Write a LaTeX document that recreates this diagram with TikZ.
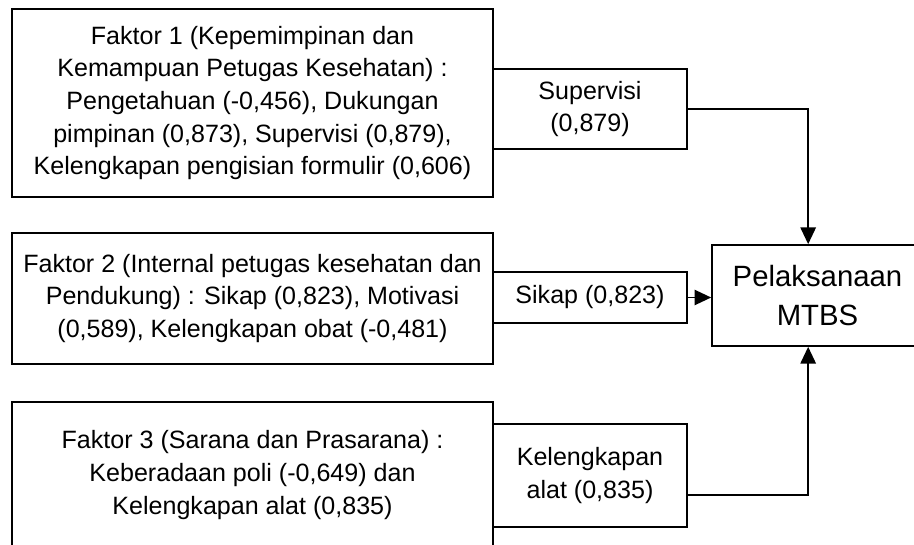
\documentclass[tikz,border=0pt]{standalone}
\usepackage{fontspec}
\setmainfont{Liberation Sans}
\usepackage{tikz}
\usetikzlibrary{arrows.meta,positioning}

\begin{document}
\begin{tikzpicture}[
  x=0.75pt,y=-0.75pt,
  >={Triangle[length=12.5pt,width=11.5pt]},
  faktor/.style={rectangle,draw=black,line width=1.25pt,minimum width=360.75pt,
                 align=center,inner sep=2pt,font=\fontsize{18.8pt}{24.4pt}\selectfont},
  kunci/.style={rectangle,draw=black,line width=1.25pt,minimum width=145.5pt,
                align=center,inner sep=2pt,font=\fontsize{18.8pt}{24.4pt}\selectfont},
  hasil/.style={rectangle,draw=black,line width=1.25pt,minimum width=158.25pt,
                minimum height=75.75pt,align=center,inner sep=2pt,
                font=\fontsize{22pt}{29pt}\selectfont},
  panah/.style={->,line width=1.25pt}
]
\useasboundingbox (0,0) rectangle (914,545);
\clip (0,0) rectangle (914,545);
% faktor boxes
\node[faktor,minimum height=141pt] (F1) at (252.5,103) {Faktor 1 (Kepemimpinan dan\\
  Kemampuan Petugas Kesehatan) :\\ Pengetahuan (-0,456), Dukungan\\
  pimpinan (0,873), Supervisi (0,879),\\ Kelengkapan pengisian formulir (0,606)};
\node[faktor,minimum height=98.25pt] (F2) at (252.5,298.5) {Faktor 2 (Internal petugas kesehatan dan\\
  Pendukung) : Sikap (0,823), Motivasi\\ (0,589), Kelengkapan obat (-0,481)};
\node[faktor,minimum height=109.5pt] (F3) at (252.5,475) {Faktor 3 (Sarana dan Prasarana) :\\
  Keberadaan poli (-0,649) dan\\ Kelengkapan alat (0,835)};
% variabel terpilih
\node[kunci,minimum height=60pt]    (K1) at (590,109)   {Supervisi\\ (0,879)};
\node[kunci,minimum height=38.25pt] (K2) at (590,297.5) {Sikap (0,823)};
\node[kunci,minimum height=77.25pt] (K3) at (590,475.5) {Kelengkapan\\ alat (0,835)};
\node[hasil] (P) at (817.5,295.5) {Pelaksanaan\\ MTBS};
\draw[panah] (K1.east) -| ([xshift=-7pt]P.north);
\draw[panah] (K2.east) -- (K2.east -| P.west);
\draw[panah] ([yshift=-14.6pt]K3.east) -| ([xshift=-7pt]P.south);
\end{tikzpicture}
\end{document}
